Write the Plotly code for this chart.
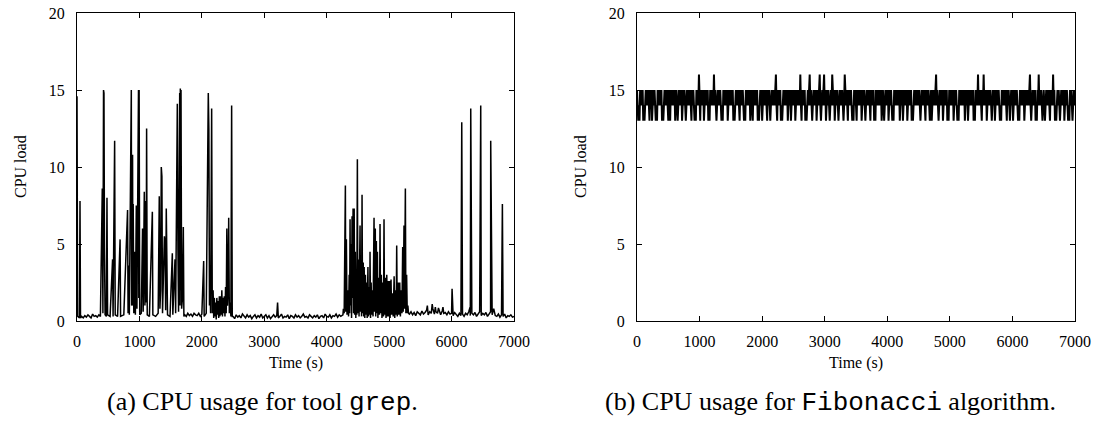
import plotly.graph_objects as go

# ---------------- data ----------------
# grep: bursts / spikes (time in s, CPU load)
grep_burst_time = [
    0, 10, 40, 48, 56,
    405, 415, 425, 432, 440, 450, 470, 480, 490, 530, 570, 578, 603, 612, 650, 690, 698, 750,
    810, 818, 830, 838, 870, 875, 880, 885, 890, 895, 900, 910, 925, 935, 950, 960,
    985, 990, 995, 1005, 1030, 1050, 1060, 1078, 1088, 1100, 1108, 1115, 1125, 1160, 1207, 1215,
    1260, 1300, 1318, 1328, 1340, 1350, 1360, 1370, 1385, 1400, 1410, 1420, 1430, 1440, 1450, 1490,
    1527, 1535, 1570, 1580, 1607, 1617, 1627, 1645, 1650, 1655, 1660, 1666, 1676, 1690, 1703, 1712,
    2029, 2037, 2070, 2103, 2112, 2122, 2130, 2140, 2157, 2167,
    2180, 2190, 2200, 2210, 2220, 2230, 2240, 2250, 2260, 2270, 2280, 2290, 2300, 2310, 2320, 2330,
    2340, 2350, 2360, 2370, 2380, 2390, 2400, 2410, 2420, 2430, 2440, 2455, 2465, 2477, 2487,
    3213,
    4260, 4267, 4280, 4299, 4305, 4315, 4325, 4340, 4350, 4360, 4367, 4374, 4382, 4390, 4398,
    4406, 4414, 4422, 4430, 4440, 4448, 4458, 4466, 4475, 4482, 4491, 4499, 4510, 4518, 4534,
    4542, 4552, 4558, 4566, 4574, 4585, 4592, 4600, 4610, 4620, 4630, 4640, 4648, 4660, 4668,
    4680, 4688, 4694, 4702, 4712, 4720, 4730, 4742, 4758, 4766, 4778, 4785, 4795, 4802, 4812,
    4820, 4835, 4845, 4854, 4862, 4875, 4885, 4900, 4910, 4918, 4926, 4940, 4950, 4962, 4972,
    4985, 4995, 5005, 5015, 5030, 5040, 5055, 5065, 5080, 5090, 5105, 5113, 5121, 5130, 5145,
    5155, 5170, 5180, 5195, 5205, 5217, 5225, 5238, 5246, 5260, 5268, 5280, 5290, 5300, 5310,
    5612, 5690, 5740, 5790, 5862, 6008, 6163, 6296, 6307, 6467, 6627, 6645, 6814, 7000,
]
grep_burst_load = [
    14.6, 0.3, 0.2, 7.8, 0.2,
    8.6, 0.5, 15.0, 14.8, 4.7, 0.4, 0.3, 8.0, 0.4, 0.3, 4.0, 0.3, 11.7, 0.4, 0.3, 5.3, 0.3, 0.4,
    7.2, 0.5, 3.6, 0.4, 15.0, 1.0, 15.0, 2.0, 10.8, 1.0, 7.6, 0.5, 4.5, 0.4, 7.5, 0.8,
    15.0, 1.5, 15.0, 0.4, 0.5, 6.0, 0.6, 8.4, 1.0, 7.8, 1.2, 12.5, 0.4, 0.3, 7.1, 0.4,
    0.3, 0.5, 8.1, 0.8, 2.0, 10.0, 9.4, 0.5, 2.5, 5.5, 5.0, 0.7, 7.3, 3.0, 0.4, 0.3,
    4.4, 0.4, 4.0, 0.5, 14.1, 4.6, 0.6, 14.8, 1.0, 15.1, 2.0, 15.0, 0.8, 1.5, 6.1, 0.3,
    3.9, 0.3, 0.5, 14.8, 12.5, 1.0, 2.7, 0.5, 13.8, 0.5,
    2.0, 0.2, 1.5, 0.3, 1.2, 0.1, 1.5, 0.4, 1.3, 0.2, 1.6, 0.3, 1.6, 0.4, 2.0, 0.3,
    1.5, 0.5, 1.6, 0.3, 2.2, 0.5, 6.0, 1.0, 2.0, 6.7, 0.5, 1.2, 0.3, 14.0, 0.3,
    1.2,
    0.4, 0.8, 0.5, 8.8, 0.6, 5.3, 0.4, 2.0, 0.3, 3.0, 0.5, 6.6, 1.0, 5.0, 0.2,
    6.8, 1.5, 7.3, 0.5, 7.3, 0.4, 4.5, 0.2, 3.0, 0.4, 10.5, 0.5, 4.0, 0.3, 6.2,
    0.6, 3.0, 0.3, 8.2, 0.5, 3.8, 0.3, 3.5, 0.2, 3.0, 0.4, 2.5, 0.2, 3.5, 0.3,
    2.2, 0.4, 4.5, 0.2, 2.5, 0.4, 2.0, 0.3, 6.7, 0.6, 6.0, 0.3, 5.2, 0.5, 4.5,
    0.2, 2.8, 0.4, 6.3, 0.5, 3.0, 0.2, 2.5, 0.3, 6.6, 0.4, 2.8, 0.2, 3.0, 0.3,
    2.6, 0.3, 2.6, 0.2, 2.7, 0.4, 1.8, 0.3, 2.9, 0.2, 2.0, 0.4, 4.9, 0.3, 2.5,
    0.4, 2.5, 0.3, 2.0, 0.5, 4.8, 0.6, 6.2, 0.8, 8.6, 0.5, 3.0, 0.5, 1.0, 0.5,
    1.0, 1.1, 0.9, 0.85, 0.9, 2.1, 12.9, 0.9, 13.8, 14.0, 11.7, 1.4, 7.6, 0.3,
]

# grep: quiet stretches, sampled every 25 s
grep_quiet0_time = list(range(75, 400, 25))
grep_quiet0_load = [0.3, 0.2, 0.35, 0.25, 0.4, 0.3, 0.2, 0.45, 0.3, 0.35, 0.25, 0.4, 0.3]

grep_quiet1_time = list(range(1725, 2025, 25))
grep_quiet1_load = [0.4, 0.3, 0.5, 0.35, 0.45, 0.3, 0.5, 0.4, 0.35, 0.5, 0.3, 0.45]

grep_quiet2_time = list(range(2500, 4250, 25))
grep_quiet2_load = [
    0.3, 0.15, 0.4, 0.25, 0.35, 0.2, 0.45, 0.3, 0.2, 0.4,
    0.25, 0.35, 0.15, 0.3, 0.4, 0.2, 0.35, 0.25, 0.45, 0.2,
    0.3, 0.4, 0.2, 0.35, 0.15, 0.3, 0.4, 0.25, 0.35, 0.2,
    0.3, 0.45, 0.2, 0.3, 0.25, 0.4, 0.15, 0.35, 0.3, 0.2,
    0.4, 0.25, 0.35, 0.2, 0.3, 0.45, 0.25, 0.3, 0.2, 0.4,
    0.3, 0.2, 0.35, 0.25, 0.4, 0.15, 0.3, 0.35, 0.2, 0.45,
    0.3, 0.25, 0.4, 0.2, 0.35, 0.3, 0.45, 0.25, 0.4, 0.3,
]

grep_quiet3_time = list(range(5325, 7000, 25))
grep_quiet3_load = [
    0.45, 0.6, 0.4, 0.55, 0.35, 0.6, 0.5, 0.4, 0.65, 0.45,
    0.55, 0.7, 0.4, 0.6, 0.5, 0.8, 0.45, 0.6, 0.5, 0.7,
    0.4, 0.65, 0.5, 0.55, 0.4, 0.6, 0.45, 0.5, 0.35, 0.55,
    0.4, 0.3, 0.5, 0.35, 0.45, 0.3, 0.5, 0.4, 0.6, 0.35,
    0.5, 0.4, 0.55, 0.3, 0.45, 0.6, 0.35, 0.5, 0.4, 0.55,
    0.3, 0.45, 0.6, 0.4, 0.8, 0.35, 0.3, 0.45, 0.25, 0.4,
    0.3, 0.45, 0.2, 0.35, 0.3, 0.4, 0.25,
]

# Fibonacci: sampled every 10 s (25 samples per row)
fib_time = list(range(0, 7001, 10))
fib_load = [
    15, 14, 13, 14, 13, 15, 14, 15, 14, 15, 13, 14, 13, 14, 15, 14, 15, 14, 15, 14, 13, 15, 14, 15, 13,
    14, 15, 14, 15, 14, 13, 14, 13, 15, 14, 15, 14, 15, 14, 15, 13, 14, 13, 14, 15, 14, 15, 14, 15, 14,
    13, 15, 14, 13, 15, 14, 15, 14, 15, 14, 15, 13, 14, 15, 14, 13, 14, 15, 14, 15, 14, 15, 13, 14, 15,
    14, 15, 14, 13, 14, 15, 14, 15, 15, 14, 15, 14, 13, 15, 14, 15, 14, 13, 14, 13, 15, 14, 15, 14, 16,
    14, 13, 15, 14, 15, 14, 15, 13, 14, 15, 14, 15, 14, 15, 13, 14, 13, 15, 14, 15, 14, 15, 14, 16, 14,
    15, 14, 13, 14, 15, 14, 15, 14, 15, 14, 13, 14, 13, 15, 14, 15, 14, 15, 14, 15, 13, 14, 15, 14, 15,
    14, 15, 14, 15, 13, 14, 13, 14, 15, 14, 15, 14, 15, 14, 13, 15, 14, 15, 14, 15, 14, 13, 14, 13, 15,
    14, 15, 14, 15, 14, 15, 13, 14, 15, 14, 13, 15, 14, 15, 14, 15, 14, 15, 13, 14, 13, 14, 15, 14, 15,
    13, 14, 15, 14, 15, 14, 15, 14, 13, 15, 14, 15, 14, 13, 14, 15, 14, 15, 14, 15, 14, 15, 16, 14, 13,
    15, 14, 15, 14, 15, 13, 14, 13, 14, 15, 14, 15, 14, 15, 14, 15, 13, 14, 15, 14, 15, 13, 14, 15, 14,
    15, 14, 15, 13, 14, 15, 14, 15, 14, 15, 14, 16, 14, 13, 15, 14, 15, 14, 15, 13, 14, 13, 14, 15, 14,
    15, 16, 14, 15, 14, 13, 14, 15, 14, 15, 14, 15, 13, 14, 15, 14, 15, 16, 14, 13, 14, 15, 14, 15, 16,
    14, 15, 13, 14, 15, 14, 15, 14, 13, 14, 15, 14, 16, 15, 14, 15, 13, 14, 15, 14, 15, 14, 13, 14, 15,
    14, 15, 14, 15, 14, 13, 14, 16, 15, 14, 15, 14, 13, 15, 14, 15, 14, 15, 14, 13, 14, 13, 15, 14, 15,
    14, 13, 15, 14, 15, 14, 15, 14, 15, 13, 14, 15, 14, 15, 14, 13, 14, 15, 14, 15, 14, 15, 14, 13, 15,
    14, 15, 14, 15, 13, 14, 13, 15, 14, 15, 14, 15, 14, 15, 14, 15, 13, 14, 15, 14, 13, 14, 15, 14, 15,
    14, 15, 13, 14, 15, 14, 15, 14, 13, 14, 13, 15, 14, 15, 14, 15, 14, 15, 14, 15, 13, 14, 15, 14, 15,
    13, 14, 15, 14, 15, 14, 15, 13, 14, 15, 14, 15, 14, 15, 13, 14, 13, 14, 15, 14, 15, 14, 15, 14, 15,
    14, 15, 14, 13, 14, 15, 14, 15, 14, 15, 14, 13, 15, 14, 15, 14, 15, 14, 13, 14, 15, 13, 14, 15, 14,
    15, 14, 15, 16, 14, 15, 14, 13, 14, 15, 14, 15, 14, 15, 13, 14, 15, 14, 15, 14, 15, 13, 14, 13, 15,
    14, 15, 14, 15, 14, 15, 13, 14, 15, 14, 15, 14, 13, 14, 13, 15, 14, 15, 14, 15, 14, 15, 14, 15, 13,
    14, 15, 14, 15, 13, 14, 15, 14, 15, 14, 15, 14, 15, 13, 14, 13, 15, 14, 15, 14, 16, 14, 15, 14, 15,
    14, 13, 15, 14, 16, 14, 15, 14, 15, 13, 14, 15, 14, 15, 14, 15, 14, 13, 14, 15, 14, 15, 13, 14, 15,
    14, 15, 14, 15, 14, 13, 14, 13, 15, 14, 15, 14, 15, 14, 15, 14, 13, 15, 14, 15, 14, 13, 14, 15, 14,
    15, 13, 14, 15, 14, 15, 14, 15, 14, 13, 14, 13, 15, 14, 15, 14, 15, 14, 15, 13, 14, 15, 14, 15, 14,
    15, 14, 15, 16, 14, 13, 14, 15, 14, 15, 14, 15, 13, 14, 13, 15, 14, 16, 14, 15, 14, 15, 14, 13, 14,
    15, 14, 13, 14, 15, 14, 15, 14, 15, 14, 13, 15, 14, 15, 14, 16, 14, 15, 13, 14, 13, 14, 15, 14, 15,
    14, 13, 14, 15, 14, 15, 14, 15, 13, 14, 15, 14, 15, 14, 13, 14, 13, 15, 14, 15, 14, 13, 14, 15, 14,
    15,
]

x_ticks = [0, 1000, 2000, 3000, 4000, 5000, 6000, 7000]
y_ticks = [0, 5, 10, 15, 20]
x_title = "Time (s)"
y_title = "CPU load"
caption_a = "(a) CPU usage for tool <span style='font-family:Liberation Mono'>grep</span>."
caption_b = "(b) CPU usage for <span style='font-family:Liberation Mono'>Fibonacci</span> algorithm."

# merge grep pieces in time order
pairs = sorted(
    list(zip(grep_burst_time, grep_burst_load))
    + list(zip(grep_quiet0_time, grep_quiet0_load))
    + list(zip(grep_quiet1_time, grep_quiet1_load))
    + list(zip(grep_quiet2_time, grep_quiet2_load))
    + list(zip(grep_quiet3_time, grep_quiet3_load))
)
grep_time = [p[0] for p in pairs]
grep_load = [p[1] for p in pairs]

# ---------------- figure ----------------
W, H = 1096, 424
SERIF = "Liberation Serif"

fig = go.Figure()
fig.add_trace(go.Scatter(x=grep_time, y=grep_load, mode="lines",
                         line=dict(color="black", width=1.5), xaxis="x", yaxis="y",
                         showlegend=False, hoverinfo="skip"))
fig.add_trace(go.Scatter(x=fib_time, y=fib_load, mode="lines",
                         line=dict(color="black", width=2), xaxis="x2", yaxis="y2",
                         showlegend=False, hoverinfo="skip"))

def px_x(p):
    return p / W

def px_y(p):
    return 1 - p / H

top, bottom = 13, 321
dom_y = [px_y(bottom), px_y(top)]
dom_x1 = [px_x(77), px_x(514)]
dom_x2 = [px_x(637), px_x(1075)]

axis_common = dict(showline=True, linecolor="black", linewidth=1, mirror="ticks",
                   ticks="inside", ticklen=5, tickwidth=1, tickcolor="black",
                   showgrid=False, zeroline=False, automargin=False,
                   ticklabeloverflow="allow",
                   tickfont=dict(family=SERIF, size=16, color="black"))

fig.update_layout(
    width=W, height=H,
    margin=dict(l=0, r=0, t=0, b=0),
    paper_bgcolor="white", plot_bgcolor="white",
    xaxis=dict(domain=dom_x1, range=[0, 7000], tickvals=x_ticks, anchor="y",
               ticklabelstandoff=6, **axis_common),
    yaxis=dict(domain=dom_y, range=[0, 20], tickvals=y_ticks, anchor="x",
               ticklabelstandoff=8, **axis_common),
    xaxis2=dict(domain=dom_x2, range=[0, 7000], tickvals=x_ticks, anchor="y2",
                ticklabelstandoff=6, **axis_common),
    yaxis2=dict(domain=dom_y, range=[0, 20], tickvals=y_ticks, anchor="x2",
                ticklabelstandoff=8, **axis_common),
)

ann = []
for cx in [(77 + 514) / 2, (637 + 1075) / 2]:
    ann.append(dict(x=px_x(cx), y=px_y(363), xref="paper", yref="paper",
                    text=x_title, showarrow=False, xanchor="center", yanchor="middle",
                    font=dict(family=SERIF, size=16, color="black")))
for cx in [20, 580]:
    ann.append(dict(x=px_x(cx), y=px_y(167), xref="paper", yref="paper",
                    text=y_title, showarrow=False, textangle=-90,
                    xanchor="center", yanchor="middle",
                    font=dict(family=SERIF, size=16, color="black")))
ann.append(dict(x=px_x(262), y=px_y(402), xref="paper", yref="paper", text=caption_a,
                showarrow=False, xanchor="center", yanchor="middle",
                font=dict(family=SERIF, size=26, color="black")))
ann.append(dict(x=px_x(830), y=px_y(402), xref="paper", yref="paper", text=caption_b,
                showarrow=False, xanchor="center", yanchor="middle",
                font=dict(family=SERIF, size=26, color="black")))
fig.update_layout(annotations=ann)

# remove the default 8 px page margin so the figure fills the window exactly
fig.write_html("out.html",
               config={"displayModeBar": False},
               post_script="document.body.style.margin='0px';"
                           "document.body.style.overflow='hidden';")
